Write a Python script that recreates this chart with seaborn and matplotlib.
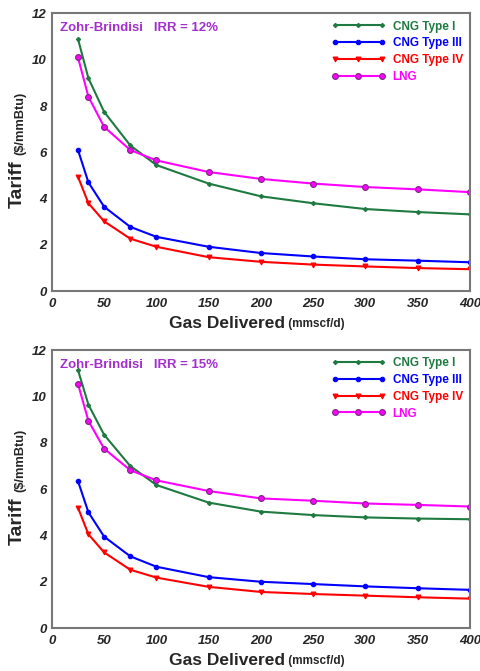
import numpy as np
import pandas as pd
import matplotlib
matplotlib.use("Agg")
import matplotlib.pyplot as plt
import seaborn as sns
from matplotlib.ticker import MultipleLocator

# gas delivered (mmscf/d)
gas_delivered = [25, 35, 50, 75, 100, 150, 200, 250, 300, 350, 400]

# IRR = 12%
cng1_12 = [10.9, 9.2, 7.75, 6.3, 5.45, 4.65, 4.1, 3.8, 3.55, 3.42, 3.32]
cng3_12 = [6.1, 4.7, 3.65, 2.78, 2.35, 1.92, 1.65, 1.5, 1.38, 1.32, 1.25]
cng4_12 = [4.95, 3.8, 3.02, 2.27, 1.92, 1.47, 1.27, 1.15, 1.07, 1.0, 0.95]
lng_12 = [10.1, 8.4, 7.1, 6.1, 5.65, 5.15, 4.85, 4.65, 4.5, 4.4, 4.28]

# IRR = 15%
cng1_15 = [11.15, 9.65, 8.35, 7.0, 6.18, 5.42, 5.03, 4.88, 4.78, 4.73, 4.7]
cng3_15 = [6.35, 5.0, 3.95, 3.1, 2.65, 2.2, 2.0, 1.9, 1.8, 1.72, 1.65]
cng4_15 = [5.2, 4.05, 3.27, 2.52, 2.18, 1.78, 1.56, 1.47, 1.4, 1.33, 1.27]
lng_15 = [10.55, 8.95, 7.75, 6.82, 6.38, 5.92, 5.6, 5.5, 5.38, 5.32, 5.25]

series_names = ["CNG Type I", "CNG Type III", "CNG Type IV", "LNG"]
panels = [("IRR = 12%", [cng1_12, cng3_12, cng4_12, lng_12]),
          ("IRR = 15%", [cng1_15, cng3_15, cng4_15, lng_15])]

styles = {
    "CNG Type I": dict(color="#1e7a40", marker="D", markersize=2.2, mfc="#1e7a40", mec="#1e7a40"),
    "CNG Type III": dict(color="#0000ff", marker="o", markersize=3.2, mfc="#0000ff", mec="#0000ff"),
    "CNG Type IV": dict(color="#ff0000", marker="v", markersize=3.5, mfc="#ff0000", mec="#ff0000"),
    "LNG": dict(color="#ff00ff", marker="o", markersize=4.2, mfc="#ff00ff", mec="#7a2a80"),
}

sns.set_style("white")
plt.rcParams["font.family"] = ["Liberation Sans", "DejaVu Sans"]

fig = plt.figure(figsize=(4.8, 6.71), dpi=100)
axes_pos = [[0.108, 0.566, 0.871, 0.414], [0.108, 0.064, 0.871, 0.414]]
title_color = "#a32fcf"

for pos, (irr, values) in zip(axes_pos, panels):
    ax = fig.add_axes(pos)
    for name, vals in zip(series_names, values):
        df = pd.DataFrame({"gas": gas_delivered, "tariff": vals})
        st = styles[name]
        sns.lineplot(data=df, x="gas", y="tariff", ax=ax, color=st["color"],
                     marker=st["marker"], markersize=st["markersize"],
                     markerfacecolor=st["mfc"], markeredgecolor=st["mec"],
                     markeredgewidth=0.8, linewidth=1.5, label=name)

    ax.set_xlim(0, 400)
    ax.set_ylim(0, 12)
    ax.xaxis.set_major_locator(MultipleLocator(50))
    ax.xaxis.set_minor_locator(MultipleLocator(25))
    ax.yaxis.set_major_locator(MultipleLocator(2))
    ax.yaxis.set_minor_locator(MultipleLocator(1))
    ax.tick_params(which="both", direction="in", color="#555555", width=1)
    ax.tick_params(which="major", length=5, labelsize=9.5)
    ax.tick_params(which="minor", length=4)
    ax.tick_params(axis="x", which="major", pad=5)
    for lbl in ax.get_xticklabels() + ax.get_yticklabels():
        lbl.set_fontweight("bold")
        lbl.set_fontstyle("italic")
    for sp in ax.spines.values():
        sp.set_color("#777777")
        sp.set_linewidth(1.5)

    ax.set_xlabel("")
    ax.set_ylabel("")

    ax.text(0.02, 0.97, "Zohr-Brindisi   " + irr, transform=ax.transAxes,
            ha="left", va="top", fontsize=9.5, fontweight="bold", color=title_color)

    leg = ax.legend(loc="upper right", frameon=False, numpoints=3, handlelength=4.6,
                    fontsize=8.5, labelcolor="linecolor", borderaxespad=0.2,
                    labelspacing=0.4, handletextpad=0.6)
    for t in leg.get_texts():
        t.set_fontweight("bold")

    # x label with mixed sizes
    xl = ax.text(0.42, -0.09, "Gas Delivered", transform=ax.transAxes,
                 ha="center", va="top", fontsize=12.5, fontweight="bold")
    ax.annotate(" (mmscf/d)", xy=(1, 0.1), xycoords=xl, ha="left", va="bottom",
                fontsize=8.5, fontweight="bold")

    # y label with mixed sizes
    ax.text(-0.062, 0.30, "Tariff", transform=ax.transAxes, rotation=90,
            ha="right", va="bottom", fontsize=14, fontweight="bold")
    ax.text(-0.060, 0.49, "($/mmBtu)", transform=ax.transAxes, rotation=90,
            ha="right", va="bottom", fontsize=9.3, fontweight="bold")

fig.savefig("out.png", dpi=100)
